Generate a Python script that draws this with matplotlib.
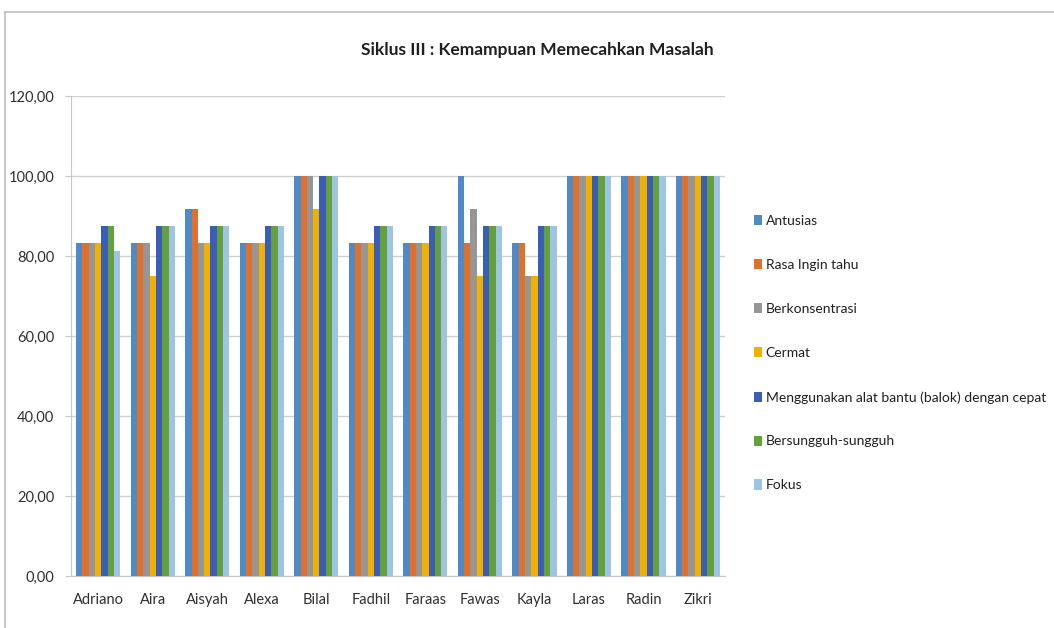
import numpy as np
import matplotlib.pyplot as plt
from matplotlib.lines import Line2D
from matplotlib.ticker import FuncFormatter

plt.rcParams['font.family'] = ['Lato', 'DejaVu Sans']

students = ["Adriano", "Aira", "Aisyah", "Alexa", "Bilal", "Fadhil",
            "Faraas", "Fawas", "Kayla", "Laras", "Radin", "Zikri"]
aspects = ["Antusias", "Rasa Ingin tahu", "Berkonsentrasi", "Cermat",
           "Menggunakan alat bantu (balok) dengan cepat",
           "Bersungguh-sungguh", "Fokus"]

antusias = [83.33, 83.33, 91.67, 83.33, 100, 83.33, 83.33, 100, 83.33, 100, 100, 100]
rasa_ingin_tahu = [83.33, 83.33, 91.67, 83.33, 100, 83.33, 83.33, 83.33, 83.33, 100, 100, 100]
berkonsentrasi = [83.33, 83.33, 83.33, 83.33, 100, 83.33, 83.33, 91.67, 75, 100, 100, 100]
cermat = [83.33, 75, 83.33, 83.33, 91.67, 83.33, 83.33, 75, 75, 100, 100, 100]
alat_bantu = [87.5, 87.5, 87.5, 87.5, 100, 87.5, 87.5, 87.5, 87.5, 100, 100, 100]
bersungguh = [87.5, 87.5, 87.5, 87.5, 100, 87.5, 87.5, 87.5, 87.5, 100, 100, 100]
fokus = [81.25, 87.5, 87.5, 87.5, 100, 87.5, 87.5, 87.5, 87.5, 100, 100, 100]

series = [antusias, rasa_ingin_tahu, berkonsentrasi, cermat, alat_bantu, bersungguh, fokus]
colors = ['#4F8AC6', '#E0702A', '#969696', '#F0B000', '#3A5DB8', '#64A03C', '#9DC3E6']

fig = plt.figure(figsize=(10.54, 6.28), dpi=100)
ax = fig.add_axes([0.0674, 0.0828, 0.6206, 0.7642])

x = np.arange(len(students))
w = 0.116
for i, (vals, c) in enumerate(zip(series, colors)):
    ax.bar(x + (i - 3) * w, vals, width=w, color=c, label=aspects[i], zorder=3)

ax.set_xlim(-0.5, len(students) - 0.5)
ax.set_ylim(0, 120)
ax.set_yticks(np.arange(0, 121, 20))
ax.yaxis.set_major_formatter(FuncFormatter(lambda v, p: f"{v:.2f}".replace('.', ',')))
ax.set_xticks(x)
ax.set_xticklabels(students)
ax.grid(axis='y', color='#D0D0D0', linewidth=1, zorder=0)
for s in ['top', 'right']:
    ax.spines[s].set_visible(False)
ax.spines['left'].set_color('#C8C8C8')
ax.spines['bottom'].set_color('#C8C8C8')
ax.tick_params(axis='y', length=4, color='#C8C8C8', labelsize=10.5, labelcolor='#303030', pad=8)
ax.tick_params(axis='x', length=0, labelsize=10.5, labelcolor='#303030', pad=12)

fig.text(0.51, 0.92, "Siklus III : Kemampuan Memecahkan Masalah",
         ha='center', va='center', fontsize=12.5, fontweight='bold', color='#202020')

ax.legend(loc='center left', bbox_to_anchor=(1.025, 0.464), frameon=False,
          fontsize=10, labelspacing=2.3, handlelength=0.55, handleheight=0.75,
          handletextpad=0.3, labelcolor='#202020')

# chart area frame (cropped)
fig.add_artist(Line2D([5 / 1054, 1], [1 - 12 / 628, 1 - 12 / 628], color='#BDBDBD', lw=1.2))
fig.add_artist(Line2D([5 / 1054, 5 / 1054], [0, 1 - 12 / 628], color='#BDBDBD', lw=1.2))

fig.savefig("out.png", dpi=100)
